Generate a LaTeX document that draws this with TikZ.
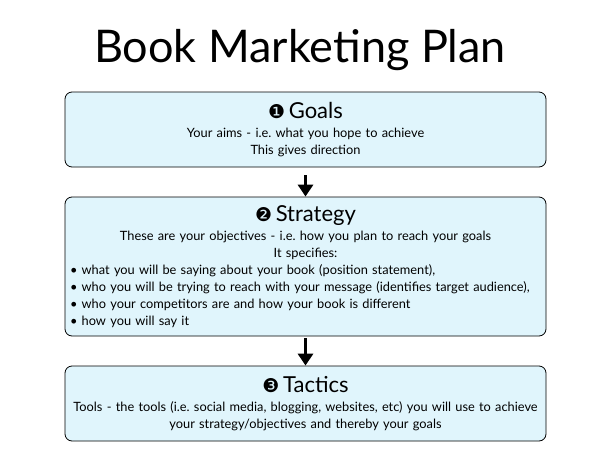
\documentclass[tikz,border=0pt]{standalone}
\usepackage{fontspec}
\setmainfont{Lato}
\newfontfamily\dingfont{DejaVu Sans}
\usetikzlibrary{arrows.meta}
\definecolor{boxblue}{RGB}{224,245,252}
\frenchspacing
\newcommand{\bodytext}{\fontsize{12.8}{17}\selectfont}
\newcommand{\headtext}[2]{{\fontsize{22}{24}\selectfont{\dingfont\fontsize{19}{24}\selectfont #1}\,#2}}
\tikzset{
  planbox/.style={draw,thick,rounded corners=7pt,fill=boxblue,text width=471pt,inner sep=5pt,font=\bodytext},
  steparrow/.style={-{Triangle[width=15pt,length=12pt]},line width=3.5pt},
}
\begin{document}
\begin{tikzpicture}[x=1pt,y=-1pt]
\useasboundingbox (0,0) rectangle (600,450);
\node (title) at (300,50) {\fontsize{45}{50}\selectfont Book Marketing Plan};
\node[planbox,minimum height=75pt,align=center] (goals) at (305.5,129.5) {\headtext{❶}{Goals}\\[2pt]
Your aims - i.e. what you hope to achieve\\
This gives direction};
\node[planbox,minimum height=139pt] (strategy) at (305.5,266.5) {%
{\centering\headtext{❷}{Strategy}\\[2pt]
These are your objectives - i.e. how you plan to reach your goals\\
It specifies:\par}
\raggedright
\textbullet\ what you will be saying about your book (position statement),\\
\textbullet\ who you will be trying to reach with your message (identifies target audience),\\
\textbullet\ who your competitors are and how your book is different\\
\textbullet\ how you will say it\par};
\node[planbox,minimum height=75pt,align=center] (tactics) at (305.5,403.5) {\headtext{❸}{Tactics}\\[2pt]
Tools - the tools (i.e. social media, blogging, websites, etc) you will use to achieve\\
your strategy/objectives and thereby your goals};
\draw[steparrow] ([yshift=-8pt]goals.south) -- (strategy.north);
\draw[steparrow] ([yshift=-2pt]strategy.south) -- (tactics.north);
\end{tikzpicture}
\end{document}
